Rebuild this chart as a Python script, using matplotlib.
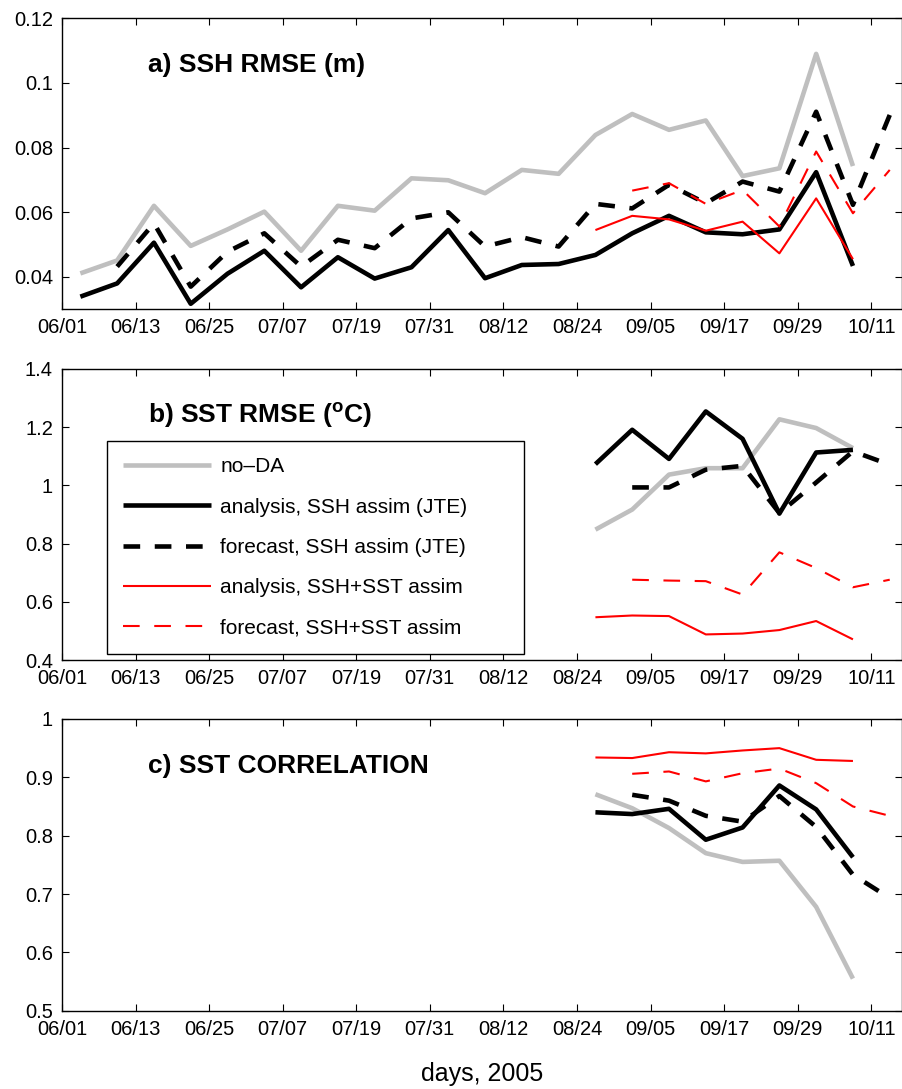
import matplotlib
matplotlib.use("Agg")
import matplotlib.dates as mdates
import matplotlib.pyplot as plt
import pandas as pd

plt.rcParams["font.family"] = ["Liberation Sans", "DejaVu Sans"]
plt.rcParams["mathtext.fontset"] = "custom"
plt.rcParams["mathtext.rm"] = "Liberation Sans"
plt.rcParams["mathtext.bf"] = "Liberation Sans:bold"
plt.rcParams["lines.scale_dashes"] = False

# sampling dates, every 6 days starting 06/04
dates = pd.date_range("2005-06-04", periods=23, freq="6D")
ana_late = dates[14:22]   # analyses 08/27 .. 10/08
fc_late = dates[15:23]    # forecasts 09/02 .. 10/14

# a) SSH RMSE (m)
ssh_noda = [0.0411, 0.0451, 0.0620, 0.0496, 0.0547, 0.0602, 0.0481, 0.0620,
            0.0605, 0.0705, 0.0699, 0.0659, 0.0731, 0.0719, 0.0839, 0.0904,
            0.0855, 0.0884, 0.0712, 0.0736, 0.1090, 0.0743]
ssh_ana = [0.0339, 0.0380, 0.0506, 0.0317, 0.0410, 0.0481, 0.0368, 0.0461,
           0.0395, 0.0430, 0.0545, 0.0396, 0.0437, 0.0440, 0.0468, 0.0535,
           0.0589, 0.0538, 0.0532, 0.0547, 0.0724, 0.0434]
ssh_fc = [0.0432, 0.0566, 0.0370, 0.0478, 0.0535, 0.0432, 0.0515, 0.0489,
          0.0581, 0.0600, 0.0494, 0.0523, 0.0494, 0.0626, 0.0612, 0.0685,
          0.0628, 0.0695, 0.0664, 0.0911, 0.0623, 0.0901]
ssh_ana_sst = [0.0545, 0.0589, 0.0578, 0.0543, 0.0571, 0.0473, 0.0643, 0.0455]
ssh_fc_sst = [0.0667, 0.0690, 0.0626, 0.0669, 0.0556, 0.0788, 0.0597, 0.0731]

# b) SST RMSE (degC)
sst_noda = [0.848, 0.917, 1.037, 1.059, 1.059, 1.227, 1.197, 1.128]
sst_ana = [1.073, 1.191, 1.091, 1.254, 1.160, 0.903, 1.113, 1.122]
sst_fc = [0.993, 0.993, 1.054, 1.067, 0.905, 1.010, 1.117, 1.071]
sst_ana_sst = [0.547, 0.553, 0.551, 0.488, 0.491, 0.503, 0.534, 0.471]
sst_fc_sst = [0.676, 0.673, 0.671, 0.625, 0.770, 0.716, 0.650, 0.676]

# c) SST correlation
cor_noda = [0.871, 0.847, 0.813, 0.770, 0.755, 0.757, 0.678, 0.555]
cor_ana = [0.840, 0.837, 0.846, 0.793, 0.814, 0.886, 0.845, 0.763]
cor_fc = [0.870, 0.860, 0.834, 0.824, 0.868, 0.815, 0.733, 0.693]
cor_ana_sst = [0.934, 0.933, 0.943, 0.941, 0.946, 0.950, 0.930, 0.928]
cor_fc_sst = [0.906, 0.910, 0.893, 0.907, 0.915, 0.890, 0.850, 0.834]

labels = ["no\u2013DA", "analysis, SSH assim (JTE)", "forecast, SSH assim (JTE)",
          "analysis, SSH+SST assim", "forecast, SSH+SST assim"]
tick_dates = pd.date_range("2005-06-01", "2005-10-11", freq="12D")

GREY = "0.75"
DASH = (0, (12, 10.5))
styles = [dict(color=GREY, lw=3.3, ls="-"),
          dict(color="k", lw=3.3, ls="-"),
          dict(color="k", lw=3.3, ls=DASH),
          dict(color="red", lw=1.5, ls="-"),
          dict(color="red", lw=1.5, ls=DASH)]

fig = plt.figure(figsize=(9.02, 10.89), dpi=100)
boxes = [[0.0687, 0.7160, 0.9313, 0.2672],
         [0.0687, 0.3939, 0.9313, 0.2673],
         [0.0687, 0.0719, 0.9313, 0.2679]]
axes = [fig.add_axes(b) for b in boxes]

panels = [
    ([(dates[:22], ssh_noda), (dates[:22], ssh_ana), (dates[1:], ssh_fc),
      (ana_late, ssh_ana_sst), (fc_late, ssh_fc_sst)],
     (0.03, 0.12), [0.04, 0.06, 0.08, 0.1, 0.12], "a) SSH RMSE (m)"),
    ([(ana_late, sst_noda), (ana_late, sst_ana), (fc_late, sst_fc),
      (ana_late, sst_ana_sst), (fc_late, sst_fc_sst)],
     (0.4, 1.4), [0.4, 0.6, 0.8, 1, 1.2, 1.4], r"b) SST RMSE ($^{\mathbf{o}}$C)"),
    ([(ana_late, cor_noda), (ana_late, cor_ana), (fc_late, cor_fc),
      (ana_late, cor_ana_sst), (fc_late, cor_fc_sst)],
     (0.5, 1.0), [0.5, 0.6, 0.7, 0.8, 0.9, 1], "c) SST CORRELATION"),
]

for ax, (series, ylim, yticks, title) in zip(axes, panels):
    for (x, y), st, lab in zip(series, styles, labels):
        ax.plot(x, y, label=lab, solid_capstyle="butt", dash_capstyle="butt", **st)
    ax.set_xlim(pd.Timestamp("2005-06-01"), pd.Timestamp("2005-10-16"))
    ax.set_xticks(tick_dates)
    ax.xaxis.set_major_formatter(mdates.DateFormatter("%m/%d"))
    ax.set_ylim(*ylim)
    ax.set_yticks(yticks)
    ax.set_yticklabels([f"{v:g}" for v in yticks])
    ax.tick_params(direction="in", length=5, width=0.8, labelsize=14.5,
                   top=True, right=True, pad=6.5)
    for sp in ax.spines.values():
        sp.set_linewidth(1.0)
    ax.text(0.102, 0.815, title, transform=ax.transAxes, fontsize=19,
            fontweight="bold", va="baseline", ha="left")

leg = axes[1].legend(loc="upper left", bbox_to_anchor=(0.0532, 0.0285, 0.4968, 0.7251),
                     mode="expand", borderaxespad=0, fontsize=15, handlelength=4.2,
                     handletextpad=0.45, labelspacing=1.02, borderpad=0.8,
                     fancybox=False, framealpha=1, edgecolor="k")
leg.get_frame().set_linewidth(1.0)

axes[2].set_xlabel("days, 2005", fontsize=18, labelpad=17)

fig.savefig("out.png", dpi=100)
